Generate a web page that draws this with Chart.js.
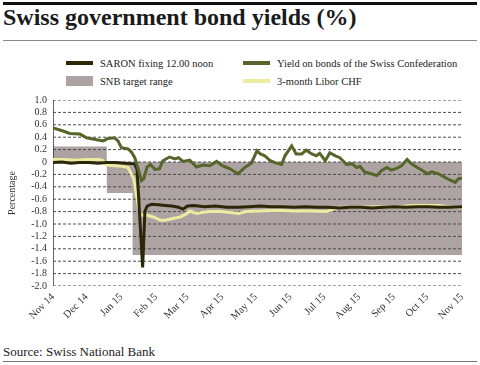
<!DOCTYPE html>
<html>
<head>
<meta charset="utf-8">
<script src="https://cdn.jsdelivr.net/npm/chart.js@4.4.1/dist/chart.umd.min.js"></script>
<style>
  body {
    margin: 0;
    width: 480px;
    height: 365px;
    position: relative;
    overflow: hidden;
    background: #fff;
    font-family: 'Liberation Serif', serif;
    color: #222;
  }
  .rule-top { position: absolute; left: 3px; top: 2px; width: 474px; height: 3px; background: #111; }
  h1 {
    position: absolute; left: 3px; top: 5px; margin: 0;
    font-size: 24px; line-height: 24px; font-weight: bold; color: #1b1b1b;
  }
  .rule-mid { position: absolute; left: 3px; top: 40px; width: 474px; height: 1px; background: #8a8a8a; }
  #legend {
    position: absolute; left: 66px; top: 54px;
    display: grid; grid-template-columns: 177px 220px;
    font-size: 10.5px; color: #222;
  }
  #legend .item { display: flex; align-items: center; height: 18px; white-space: nowrap; }
  #legend .swatch { width: 27px; margin-right: 7px; }
  #chart-wrap { position: absolute; left: 0; top: 88px; width: 480px; height: 250px; }
  .source { position: absolute; left: 3px; top: 344px; font-size: 13px; line-height: 15px; color: #222; }
  .rule-bottom { position: absolute; left: 3px; top: 361px; width: 474px; height: 1px; background: #777; }
</style>
</head>
<body>
<div class="rule-top"></div>
<h1>Swiss government bond yields (%)</h1>
<div class="rule-mid"></div>
<div id="legend"></div>
<div id="chart-wrap"><canvas id="myChart"></canvas></div>
<div class="source">Source: Swiss National Bank</div>
<div class="rule-bottom"></div>

<script>
// x values are days since 1 Nov 2014
const monthLabels = ['Nov 14', 'Dec 14', 'Jan 15', 'Feb 15', 'Mar 15', 'Apr 15', 'May 15',
  'Jun 15', 'Jul 15', 'Aug 15', 'Sep 15', 'Oct 15', 'Nov 15'];
const monthDays = [0, 30, 61, 92, 120, 151, 181, 212, 242, 273, 304, 334, 365];

const bondDays = [0, 9, 15, 24, 30, 39, 45, 49, 55, 58, 61, 67, 70, 73, 76, 79, 81, 84, 87, 91,
  95, 98, 104, 109, 112, 116, 122, 128, 134, 140, 146, 151, 158, 165, 171, 177, 182, 185, 189,
  194, 198, 204, 207, 213, 217, 222, 226, 231, 235, 238, 243, 247, 252, 256, 262, 267, 271, 274,
  278, 284, 289, 293, 298, 302, 307, 311, 316, 320, 325, 329, 334, 338, 344, 350, 354, 359, 362, 365];
const bondYield = [0.55, 0.50, 0.46, 0.45, 0.39, 0.36, 0.34, 0.38, 0.39, 0.34, 0.23, 0.21, 0.16,
  0.07, -0.11, -0.30, -0.27, -0.08, -0.04, -0.12, -0.11, 0.02, 0.08, 0.05, 0.07, 0.01, 0.03, -0.08,
  -0.05, -0.06, 0.01, -0.06, -0.11, -0.19, -0.09, -0.02, 0.18, 0.13, 0.10, 0.02, -0.01, -0.04, 0.10,
  0.26, 0.13, 0.13, 0.19, 0.13, 0.10, 0.14, 0.02, 0.15, 0.10, 0.07, -0.04, -0.03, -0.09, -0.07,
  -0.16, -0.19, -0.22, -0.14, -0.09, -0.13, -0.10, -0.06, 0.04, -0.03, -0.09, -0.13, -0.19, -0.16,
  -0.19, -0.25, -0.29, -0.33, -0.27, -0.26];

const saronDays = [0, 8, 16, 24, 32, 40, 48, 56, 64, 73, 75, 80, 82, 84, 88, 94, 100, 106, 112,
  116, 120, 126, 135, 145, 155, 165, 175, 185, 195, 205, 215, 225, 235, 245, 255, 265, 275, 285,
  295, 305, 315, 325, 335, 345, 355, 365];
const saronFixing = [-0.01, 0.00, -0.02, -0.01, -0.01, -0.02, -0.01, -0.01, -0.02, -0.03, -0.12,
  -1.70, -0.80, -0.71, -0.68, -0.69, -0.70, -0.71, -0.73, -0.76, -0.71, -0.70, -0.72, -0.71, -0.73,
  -0.73, -0.72, -0.71, -0.72, -0.72, -0.73, -0.72, -0.73, -0.73, -0.74, -0.73, -0.73, -0.74, -0.73,
  -0.72, -0.73, -0.72, -0.72, -0.73, -0.73, -0.72];

const liborDays = [0, 10, 20, 30, 40, 44, 48, 55, 62, 67, 72, 74, 76, 78, 84, 90, 96, 100, 107,
  113, 118, 122, 128, 134, 140, 150, 160, 166, 172, 185, 200, 215, 230, 244, 250, 256, 270, 290,
  310, 320, 345, 355, 365];
const liborChf = [0.04, 0.04, 0.03, 0.04, 0.04, 0.03, -0.05, -0.06, -0.07, -0.09, -0.27, -0.49,
  -0.70, -0.86, -0.86, -0.89, -0.94, -0.94, -0.91, -0.89, -0.85, -0.79, -0.83, -0.81, -0.80, -0.80,
  -0.82, -0.83, -0.80, -0.79, -0.78, -0.79, -0.79, -0.80, -0.76, -0.73, -0.73, -0.72, -0.72, -0.70,
  -0.70, -0.73, -0.73];

// SNB target range, drawn as a block from 0
const snbDays = [0, 48, 71, 365];
const snbRange = [0.25, -0.5, -1.5, -1.5];

// y axis ticks, -2.0 to 1.0 by 0.2
const yTickValues = [-2, -1.8, -1.6, -1.4, -1.2, -1, -0.8, -0.6, -0.4, -0.2, 0,
  0.2, 0.4, 0.6, 0.8, 1];

function toPoints(xs, ys) {
  return xs.map((x, i) => ({ x: x, y: ys[i] }));
}

const serif = 'Liberation Serif';
const firstDay = monthDays[0];
const lastDay = monthDays[monthDays.length - 1];

// dashed grid lines as thin line datasets, sitting between the SNB block and the series
const gridSets = yTickValues.map((v) => ({
  label: '',
  gridLine: true,
  data: [{ x: firstDay, y: v }, { x: lastDay, y: v }],
  borderColor: '#4a4a4a',
  borderWidth: 1,
  borderDash: [3, 2],
  order: 2.5,
}));
const axisSet = {
  label: '',
  gridLine: true,
  data: [{ x: firstDay, y: yTickValues[0] }, { x: firstDay, y: yTickValues[yTickValues.length - 1] }],
  borderColor: '#333',
  borderWidth: 1.5,
  order: 2.5,
};

const dataChart = {
  datasets: [
    {
      label: 'SARON fixing 12.00 noon',
      data: toPoints(saronDays, saronFixing),
      borderColor: '#2b2709',
      backgroundColor: '#2b2709',
      borderWidth: 3,
      order: 1,
    },
    {
      label: 'Yield on bonds of the Swiss Confederation',
      data: toPoints(bondDays, bondYield),
      borderColor: '#56652a',
      backgroundColor: '#56652a',
      borderWidth: 3,
      order: 0,
    },
    {
      label: 'SNB target range',
      data: toPoints(snbDays, snbRange),
      borderWidth: 0,
      borderColor: 'rgba(0,0,0,0)',
      backgroundColor: '#ada3a3',
      stepped: true,
      fill: 'origin',
      order: 3,
    },
    {
      label: '3-month Libor CHF',
      data: toPoints(liborDays, liborChf),
      borderColor: '#eeeaa0',
      backgroundColor: '#eeeaa0',
      borderWidth: 3,
      order: 2,
    },
    ...gridSets,
    axisSet,
  ],
};

const config = {
  type: 'line',
  data: dataChart,
  options: {
    responsive: true,
    maintainAspectRatio: false,
    devicePixelRatio: 1,
    animation: false,
    layout: { padding: { top: 10, right: 18, left: 0, bottom: 0 } },
    elements: { point: { radius: 0 }, line: { tension: 0 } },
    plugins: {
      legend: { display: false },
      tooltip: { enabled: false },
    },
    scales: {
      x: {
        type: 'linear',
        min: firstDay,
        max: lastDay,
        grid: { display: false, drawTicks: false },
        border: { display: false },
        afterBuildTicks: (scale) => {
          scale.ticks = monthDays.map((d) => ({ value: d }));
        },
        afterFit: (scale) => { scale.height = 52; },
        ticks: {
          autoSkip: false,
          minRotation: 45,
          maxRotation: 45,
          padding: 5,
          color: '#333',
          font: { family: serif, size: 10.5 },
          callback: (value) => monthLabels[monthDays.indexOf(value)],
        },
      },
      y: {
        min: yTickValues[0],
        max: yTickValues[yTickValues.length - 1],
        afterFit: (scale) => { scale.width = 53; },
        grid: { display: false, drawTicks: false },
        border: { display: false },
        ticks: {
          stepSize: 0.2,
          autoSkip: false,
          padding: 6,
          color: '#333',
          font: { family: serif, size: 10 },
          callback: (v) => (Math.abs(v) < 1e-9 ? '0' : v.toFixed(1)),
        },
        title: {
          display: true,
          text: 'Percentage',
          color: '#333',
          font: { family: serif, size: 10 },
          padding: { top: 6, bottom: 0 },
        },
      },
    },
  },
};

const chart = new Chart(document.getElementById('myChart'), config);

// legend in two columns, built from the series datasets
const legendEl = document.getElementById('legend');
chart.data.datasets.filter((ds) => !ds.gridLine).forEach((ds) => {
  const item = document.createElement('div');
  item.className = 'item';
  const sw = document.createElement('span');
  sw.className = 'swatch';
  const isBlock = ds.fill === 'origin';
  sw.style.height = isBlock ? '10px' : '4px';
  sw.style.background = isBlock ? ds.backgroundColor : ds.borderColor;
  item.appendChild(sw);
  item.appendChild(document.createTextNode(ds.label));
  legendEl.appendChild(item);
});
</script>
</body>
</html>
